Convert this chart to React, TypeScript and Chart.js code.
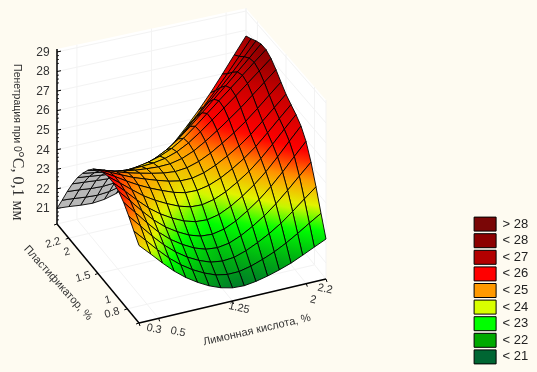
import React, { useEffect, useRef } from "react";
import { Chart, registerables } from "chart.js";
Chart.register(...registerables);

const BG = "#fefbf1";
// Penetration readings; rows run over plasticizer 0.8..2.2, columns over citric acid 0.3..2.2
const Z_TABLE = [
  [24.00,23.45,22.88,22.35,21.90,21.53,21.22,20.99,20.85,20.82,20.90,21.03,21.20,21.40,21.66,21.93,22.20],
  [24.41,23.83,23.24,22.69,22.23,21.85,21.55,21.32,21.21,21.22,21.35,21.55,21.79,22.09,22.44,22.82,23.18],
  [24.85,24.24,23.61,23.04,22.56,22.17,21.87,21.65,21.57,21.62,21.81,22.08,22.40,22.78,23.24,23.73,24.21],
  [25.24,24.61,23.97,23.37,22.88,22.50,22.19,21.99,21.93,22.02,22.26,22.59,22.98,23.45,24.00,24.58,25.15],
  [25.50,24.89,24.26,23.68,23.20,22.83,22.53,22.34,22.30,22.42,22.69,23.07,23.50,24.02,24.62,25.27,25.90],
  [25.62,25.08,24.51,23.98,23.55,23.21,22.93,22.76,22.72,22.85,23.13,23.50,23.94,24.46,25.08,25.74,26.38],
  [25.64,25.19,24.73,24.29,23.93,23.63,23.37,23.20,23.17,23.30,23.55,23.91,24.32,24.83,25.42,26.05,26.66],
  [25.57,25.22,24.86,24.53,24.24,23.99,23.76,23.61,23.59,23.71,23.95,24.28,24.67,25.14,25.70,26.29,26.87],
  [25.40,25.14,24.87,24.61,24.40,24.20,24.02,23.90,23.90,24.04,24.29,24.62,25.00,25.45,25.99,26.55,27.10],
  [25.13,24.94,24.73,24.54,24.39,24.25,24.13,24.07,24.13,24.31,24.60,24.97,25.37,25.82,26.34,26.89,27.42],
  [24.77,24.62,24.47,24.34,24.24,24.18,24.14,24.16,24.29,24.54,24.90,25.31,25.75,26.21,26.72,27.24,27.76],
  [24.32,24.22,24.11,24.02,23.98,23.99,24.03,24.13,24.33,24.65,25.08,25.55,26.03,26.51,27.02,27.53,28.04],
  [23.80,23.73,23.65,23.59,23.60,23.66,23.77,23.94,24.20,24.58,25.06,25.58,26.10,26.61,27.14,27.67,28.20],
  [23.18,23.13,23.07,23.03,23.06,23.16,23.31,23.52,23.83,24.24,24.75,25.31,25.87,26.43,27.01,27.59,28.19],
  [22.48,22.43,22.36,22.33,22.37,22.49,22.67,22.92,23.26,23.70,24.23,24.82,25.43,26.04,26.69,27.36,28.05],
  [21.73,21.68,21.61,21.57,21.62,21.76,21.96,22.24,22.61,23.07,23.63,24.24,24.89,25.58,26.31,27.08,27.86],
  [21.00,20.95,20.88,20.84,20.90,21.06,21.29,21.61,22.00,22.49,23.06,23.71,24.40,25.16,25.99,26.85,27.70],
];
const N = Z_TABLE.length - 1;
const Z_TICKS = [21,22,23,24,25,26,27,28,29];
const X_TICKS = [0.3,0.5,1.25,2,2.2];
const Y_TICKS = [0.8,1,1.5,2,2.2];
const LEGEND_LABELS = ["> 28","< 28","< 27","< 26","< 25","< 24","< 23","< 22","< 21"];
const LEGEND_COLORS = ["#7a0606","#8c0000","#b30000","#ff0000","#ff9900","#d8ff00","#00ff00","#00aa00","#006633"];
const STOPS:[number,number[]][] = [[20.4,[0,95,55]],[21.5,[0,170,20]],[22.6,[0,255,0]],[23.5,[225,245,0]],[24.5,[255,153,0]],[25.5,[255,0,0]],[27,[200,0,0]],[28,[145,0,0]],[28.6,[120,6,6]]];
function colorOf(z:number){if(z<=STOPS[0][0])return STOPS[0][1];for(let i=1;i<STOPS.length;i++){if(z<=STOPS[i][0]){const t=(z-STOPS[i-1][0])/(STOPS[i][0]-STOPS[i-1][0]);return STOPS[i-1][1].map((a,k)=>a+(STOPS[i][1][k]-a)*t);}}return STOPS[STOPS.length-1][1];}
const css=(c:number[])=>`rgb(${c.map(Math.round).join(",")})`;

const F=[139,323],R=[326,279],L=[57,224],B=[246,180];
const ZMIN=20.2,ZMAX=29.15;
const HF=20.4,HR=20,HL=19.55,HB=19.2;
function proj(u:number,v:number,z:number){
 const w=[(1-u)*(1-v),u*(1-v),(1-u)*v,u*v];
 const x=w[0]*F[0]+w[1]*R[0]+w[2]*L[0]+w[3]*B[0];
 const y=w[0]*F[1]+w[1]*R[1]+w[2]*L[1]+w[3]*B[1];
 const h=w[0]*HF+w[1]*HR+w[2]*HL+w[3]*HB;
 return {x,y:y-h*(z-ZMIN)};
}
const xu=(x:number)=>(x-0.3)/1.9, yv=(y:number)=>(y-0.8)/1.4;

export default function App(){
 const ref=useRef<HTMLCanvasElement>(null);
 useEffect(()=>{
  document.body.style.margin="0";document.body.style.background=BG;
  const cv=ref.current!;const ctx=cv.getContext("2d")!;
  const ds:any[]=[];
  const seg=(pts:any[],color:string,w:number)=>ds.push({type:"scatter",showLine:true,data:pts,borderColor:color,borderWidth:w,pointRadius:0,fill:false,clip:false,tension:0});
  const poly=(pts:any[],fillC:any,color:string,w:number)=>ds.push({type:"scatter",showLine:true,data:[...pts,pts[0]],backgroundColor:fillC,borderColor:color,borderWidth:w,pointRadius:0,fill:"shape",clip:false,tension:0});
  for(let r=0;r<N;r++)for(let c=0;c<N;c++){
   const zs=[Z_TABLE[r][c],Z_TABLE[r][c+1],Z_TABLE[r+1][c+1],Z_TABLE[r+1][c]];
   const p=[proj(c/N,r/N,zs[0]),proj((c+1)/N,r/N,zs[1]),proj((c+1)/N,(r+1)/N,zs[2]),proj(c/N,(r+1)/N,zs[3])];
   let area=0;for(let i=0;i<4;i++){const a=p[i],b=p[(i+1)%4];area+=a.x*b.y-b.x*a.y;}
   let fc:any;
   if(area>0){fc="#b8b8b8";}else{
    let lo=0,hi=0;zs.forEach((z,i)=>{if(z<zs[lo])lo=i;if(z>zs[hi])hi=i;});
    const g=ctx.createLinearGradient(p[lo].x,p[lo].y,p[hi].x,p[hi].y);
    for(let i=0;i<=4;i++){g.addColorStop(i/4,css(colorOf(zs[lo]+(zs[hi]-zs[lo])*i/4)));}
    fc=g;
   }
   poly(p,fc,"#000000",0.9);
  }
  const P=(x:number,y:number,z:number)=>proj(xu(x),yv(y),z);
  seg([P(0.3,2.2,ZMIN),P(0.3,2.2,ZMAX)],"#000",1.5);
  seg([P(0.3,2.2,ZMIN),P(0.3,0.8,ZMIN)],"#000",1.5);
  seg([P(0.3,0.8,ZMIN),P(2.2,0.8,ZMIN)],"#000",1.5);
  for(const z of Z_TICKS){const a=P(0.3,2.2,z);seg([a,{x:a.x+4,y:a.y-0.8}],"#000",1);
    for(const k of [-0.6,-0.4,-0.2]){const m=P(0.3,2.2,z+k);seg([m,{x:m.x+2,y:m.y-0.4}],"#000",0.8);}}
  for(const y of Y_TICKS){const a=P(0.3,y,ZMIN);seg([a,{x:a.x-3,y:a.y+1}],"#000",1);}
  for(const x of X_TICKS){const a=P(x,0.8,ZMIN);seg([a,{x:a.x+1,y:a.y+3}],"#000",1);}
  const GC="#f3f3f3";
  for(const z of Z_TICKS){seg([P(0.3,2.2,z),P(2.2,2.2,z)],GC,1);seg([P(2.2,2.2,z),P(2.2,0.8,z)],GC,1);}
  for(const x of X_TICKS){seg([P(x,0.8,ZMIN),P(x,2.2,ZMIN)],GC,1);seg([P(x,2.2,ZMIN),P(x,2.2,ZMAX)],GC,1);}
  for(const y of Y_TICKS){seg([P(0.3,y,ZMIN),P(2.2,y,ZMIN)],GC,1);seg([P(2.2,y,ZMIN),P(2.2,y,ZMAX)],GC,1);}
  poly([P(0.3,2.2,ZMIN),P(2.2,2.2,ZMIN),P(2.2,2.2,ZMAX),P(0.3,2.2,ZMAX)],"#ffffff","#ffffff",0);
  poly([P(2.2,2.2,ZMIN),P(2.2,0.8,ZMIN),P(2.2,0.8,ZMAX),P(2.2,2.2,ZMAX)],"#ffffff","#ffffff",0);
  poly([P(0.3,0.8,ZMIN),P(2.2,0.8,ZMIN),P(2.2,2.2,ZMIN),P(0.3,2.2,ZMIN)],"#ffffff","#ffffff",0);

  const textPlugin={id:"labels",afterDraw(ch:any){
   const c=ch.ctx;const sx=ch.scales.x,sy=ch.scales.y;
   const put=(t:string,x:number,y:number,rot:number,font:string,col="#333")=>{c.save();c.translate(sx.getPixelForValue(x),sy.getPixelForValue(y));c.rotate(rot*Math.PI/180);c.font=font;c.fillStyle=col;c.textAlign="center";c.textBaseline="middle";c.fillText(t,0,0);c.restore();};
   const f="11px 'Liberation Sans'";
   Z_TICKS.forEach((z,i)=>put(String(z),43,209-(i*19.6),0,"12px 'Liberation Sans'"));
   const XP:[string,number,number][]=[["0.3",154,329],["0.5",178,332],["1.25",239,308],["2",313,300],["2.2",325,289]];
   XP.forEach(([t,x,y])=>put(t,x,y,12,f));
   const YP:[string,number,number][]=[["2.2",53,243],["2",67,252],["1.5",83,277],["1",108,300],["0.8",112,313]];
   YP.forEach(([t,x,y])=>put(t,x,y,-15,f));
   put("Лимонная кислота, %",257,330,-13,f);
   put("Пластификатор, %",58,283,48,f);
   put("Пенетрация при 0",17,108,90,"10.5px 'Liberation Sans'");
   put("°C, 0,1 мм",17,186,90,"16px 'Liberation Serif'");
  }};
  const identity={id:"identity",afterLayout(ch:any){const a=ch.chartArea;const x=ch.scales.x,y=ch.scales.y;x.min=a.left;x.max=a.right;x.configure();y.min=a.top;y.max=a.bottom;y.configure();
    const lg=ch.legend;lg.left=471.5;lg.right=537;lg.top=214.5;lg.bottom=420;}};
  const chart=new Chart(cv,{type:"scatter",data:{datasets:ds},plugins:[identity,textPlugin],options:{
    animation:false,responsive:false,
    scales:{x:{type:"linear",display:false,min:0,max:537},y:{type:"linear",display:false,reverse:true,min:0,max:372}},
    plugins:{tooltip:{enabled:false},title:{display:false},
     legend:{display:true,position:"right",align:"start",
      labels:{boxWidth:22,boxHeight:14,padding:2.6,color:"#222",font:{family:"'Liberation Sans'",size:13,lineHeight:1},
       generateLabels:()=>LEGEND_LABELS.map((t,i)=>({text:t,fillStyle:LEGEND_COLORS[i],strokeStyle:"#000",lineWidth:1,datasetIndex:0,hidden:false,fontColor:"#222"}))}}}
  }} as any);
  return ()=>chart.destroy();
 },[]);
 return <canvas ref={ref} width={537} height={372} style={{display:"block",width:537,height:372,background:BG}}/>;
}
